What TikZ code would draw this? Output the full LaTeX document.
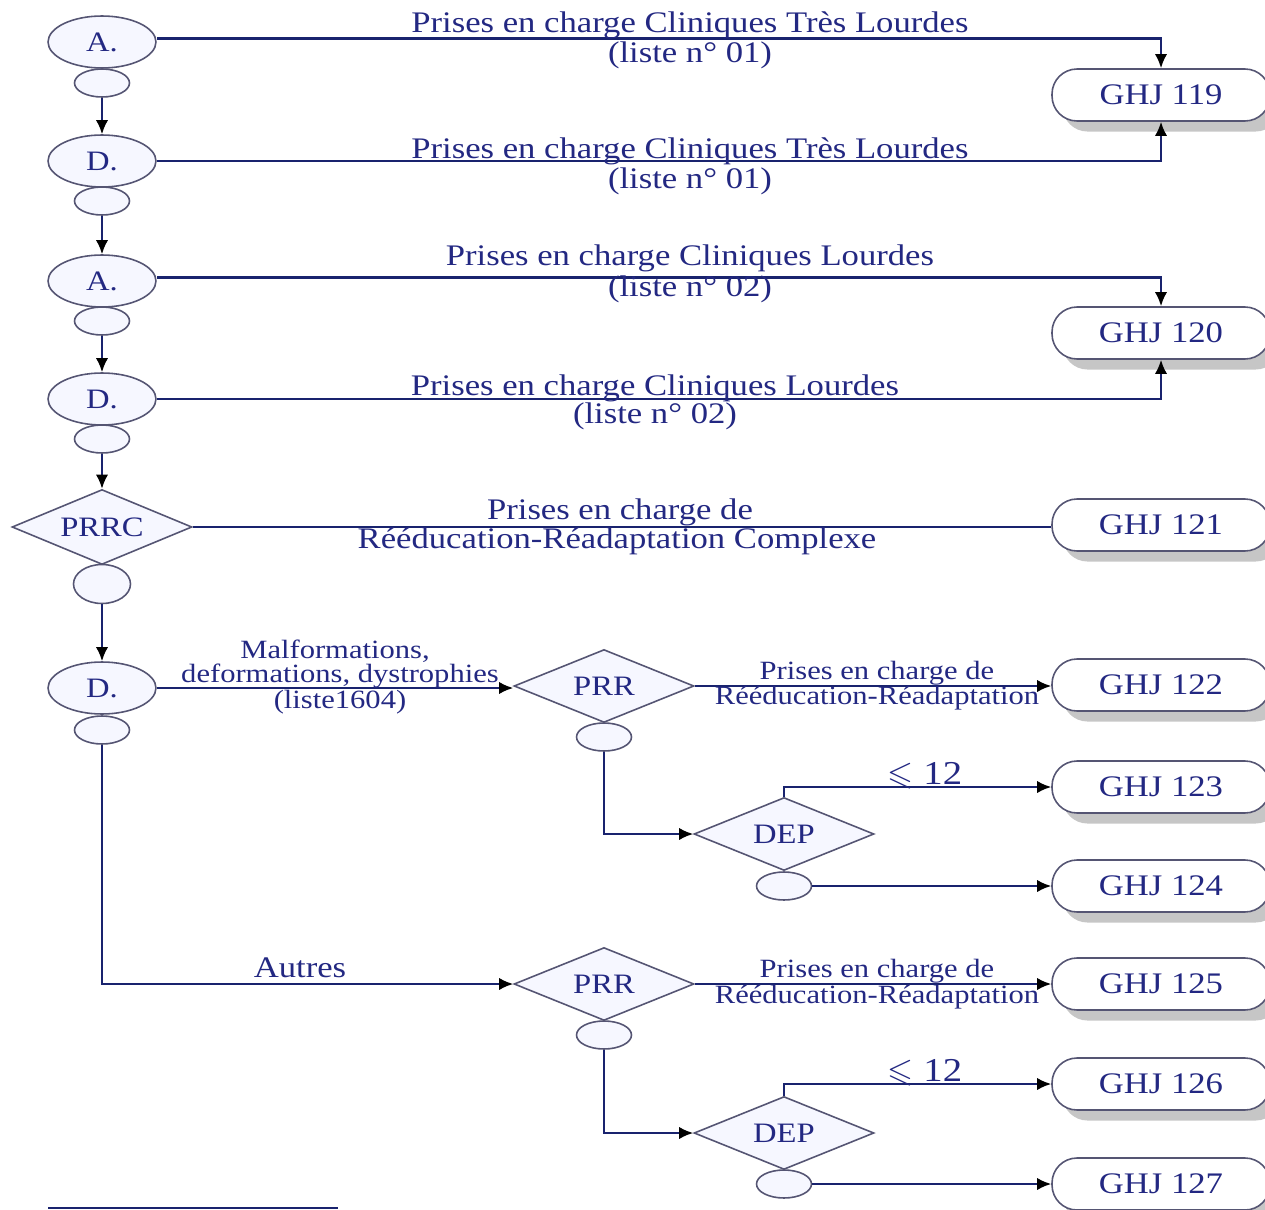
\documentclass[tikz,border=0pt]{standalone}
\usepackage{amssymb}
\usepackage{fontspec}
\setmainfont[FakeStretch=1.16]{Liberation Serif}
\usetikzlibrary{shapes.geometric,arrows.meta,shadows}
\definecolor{navy}{RGB}{25,35,110}
\definecolor{ellc}{RGB}{85,85,115}
\definecolor{ellf}{RGB}{246,247,255}
\definecolor{txt}{RGB}{35,40,130}
\begin{document}
\begin{tikzpicture}[x=0.02cm,y=-0.02cm,
  big/.style={ellipse, draw=ellc, line width=0.9pt, fill=ellf, minimum width=2.16cm, minimum height=1.04cm, inner sep=0pt, text=txt, font=\fontsize{16}{17}\selectfont},
  small/.style={ellipse, draw=ellc, line width=0.9pt, fill=ellf, minimum width=1.1cm, minimum height=0.56cm, inner sep=0pt},
  dia/.style={diamond, draw=ellc, line width=0.9pt, fill=ellf, minimum width=3.6cm, minimum height=1.46cm, aspect=2.4, inner sep=0pt, text=txt, font=\fontsize{16}{17}\selectfont},
  ghj/.style={draw=ellc, line width=0.9pt, fill=white, rounded corners=0.5cm, minimum width=4.36cm, minimum height=1.04cm, inner sep=0pt, text=txt, font=\fontsize{17}{18}\selectfont, drop shadow={shadow xshift=6pt, shadow yshift=-6pt, fill=gray!45, opacity=1}},
  conn/.style={draw=navy, line width=1.2pt},
  arr/.style={conn, -{Latex[length=8pt,width=7pt,color=black]}},
  lab/.style={text=txt, inner sep=0pt, font=\fontsize{17}{18}\selectfont},
  slab/.style={text=txt, inner sep=0pt, font=\fontsize{15}{16}\selectfont}
]
\useasboundingbox (0,0) rectangle (1265,1210);

% left column
\node[big] (A1) at (102,42) {A.};
\node[small] (s1) at (102,83) {};
\node[big] (D1) at (102,161) {D.};
\node[small] (s2) at (102,201) {};
\node[big] (A2) at (102,281) {A.};
\node[small] (s3) at (102,321) {};
\node[big] (D2) at (102,399) {D.};
\node[small] (s4) at (102,439) {};
\node[dia, minimum height=1.5cm] (PRRC) at (102,527) {PRRC};
\node[small, minimum width=1.14cm, minimum height=0.78cm] (s5) at (102,584) {};
\node[big] (D3) at (102,688) {D.};
\node[small] (s6) at (102,730) {};

% GHJ boxes
\node[ghj] (G119) at (1161,95) {GHJ 119};
\node[ghj] (G120) at (1161,333) {GHJ 120};
\node[ghj] (G121) at (1161,525) {GHJ 121};
\node[ghj] (G122) at (1161,685) {GHJ 122};
\node[ghj] (G123) at (1161,787) {GHJ 123};
\node[ghj] (G124) at (1161,886) {GHJ 124};
\node[ghj] (G125) at (1161,984) {GHJ 125};
\node[ghj] (G126) at (1161,1084) {GHJ 126};
\node[ghj] (G127) at (1161,1184) {GHJ 127};

% middle decisions
\node[dia] (PRR1) at (604,686) {PRR};
\node[small] (ps1) at (604,737) {};
\node[dia] (DEP1) at (784,834) {DEP};
\node[small] (ds1) at (784,886) {};
\node[dia] (PRR2) at (604,984) {PRR};
\node[small] (ps2) at (604,1035) {};
\node[dia] (DEP2) at (784,1133) {DEP};
\node[small] (ds2) at (784,1184) {};

% vertical arrows
\draw[arr] (s1.south) -- (D1.north);
\draw[arr] (s2.south) -- (A2.north);
\draw[arr] (s3.south) -- (D2.north);
\draw[arr] (s4.south) -- (PRRC.north);
\draw[arr] (s5.south) -- (D3.north);

% connectors to GHJ 119/120
\draw[arr] ([yshift=2pt]A1.east) -| (G119.north);
\draw[arr] (D1.east) -| (G119.south);
\draw[arr] ([yshift=2pt]A2.east) -| (G120.north);
\draw[arr] (D2.east) -| (G120.south);
\draw[conn] (PRRC.east) -- (PRRC.east -| G121.west);

\node[lab] (l1a) at (690,25) {Prises en charge Cliniques Très Lourdes};
\node[lab] (l1b) at (690,55) {(liste n° 01)};
\node[lab] (l2a) at (690,151) {Prises en charge Cliniques Très Lourdes};
\node[lab] (l2b) at (690,181) {(liste n° 01)};
\node[lab] (l3a) at (690,258) {Prises en charge Cliniques Lourdes};
\node[lab] (l3b) at (690,289) {(liste n° 02)};
\node[lab] (l4a) at (655,388) {Prises en charge Cliniques Lourdes};
\node[lab] (l4b) at (655,416) {(liste n° 02)};
\node[lab] (l5a) at (620,512) {Prises en charge de};
\node[lab] (l5b) at (617,541) {Rééducation-Réadaptation Complexe};

% lower part
\draw[arr] (D3.east) -- (D3.east -| PRR1.west);
\node[slab] (m1) at (335,651) {Malformations,};
\node[slab] (m2) at (340,676) {deformations, dystrophies};
\node[slab] (m3) at (340,702) {(liste1604)};

\draw[arr] (PRR1.east) -- (PRR1.east -| G122.west);
\node[slab] (p1a) at (877,673) {Prises en charge de};
\node[slab] (p1b) at (877,698) {Rééducation-Réadaptation};
\draw[arr] (ps1.south) |- (DEP1.west);
\draw[arr] (DEP1.north) |- (G123.west);
\node[lab, font=\fontsize{19}{20}\selectfont] (le1) at (925,776) {$\leqslant$ 12};
\draw[arr] (ds1.east) -- (G124.west);

\draw[arr] (s6.south) |- (PRR2.west);
\node[lab] (au) at (300,968) {Autres};
\draw[arr] (PRR2.east) -- (G125.west);
\node[slab] (p2a) at (877,971) {Prises en charge de};
\node[slab] (p2b) at (877,997) {Rééducation-Réadaptation};
\draw[arr] (ps2.south) |- (DEP2.west);
\draw[arr] (DEP2.north) |- (G126.west);
\node[lab, font=\fontsize{19}{20}\selectfont] (le2) at (925,1073) {$\leqslant$ 12};
\draw[arr] (ds2.east) -- (G127.west);

% footnote rule
\coordinate (fn1) at (48,1208);
\coordinate (fn2) at (338,1208);
\draw[conn] (fn1) -- (fn2);
\end{tikzpicture}
\end{document}
